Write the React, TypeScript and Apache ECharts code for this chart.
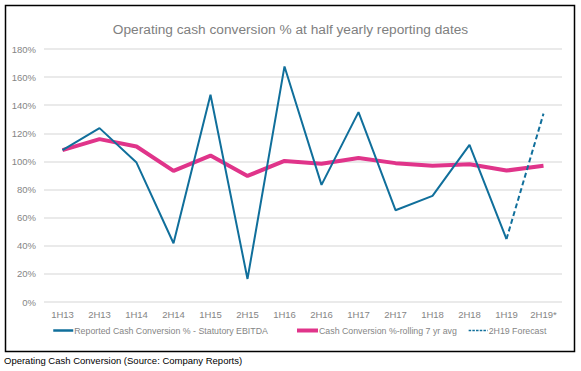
import React, { useEffect, useRef } from "react";
import * as echarts from "echarts";

const categories = ["1H13", "2H13", "1H14", "2H14", "1H15", "2H15", "1H16", "2H16", "1H17", "2H17", "1H18", "2H18", "1H19", "2H19*"];
const reported = [108, 123.7, 99.2, 41.8, 147.4, 16.4, 167.6, 83.3, 135.1, 65.3, 75.5, 111.8, 44.8, null];
const rolling = [108, 115.9, 110.6, 93.3, 104.2, 89.7, 100.4, 98.3, 102.5, 98.8, 96.9, 98, 93.5, 97];
const forecast = [null, null, null, null, null, null, null, null, null, null, null, null, 44.8, 134];
const yTicks = { min: 0, max: 180, interval: 20 };

const BLUE = "#106f9b";
const PINK = "#e0348a";
const GRAY = "#858585";
const FONT = "Liberation Sans, Arial, sans-serif";

export default function App() {
  const ref = useRef<HTMLDivElement>(null);
  useEffect(() => {
    const chart = echarts.init(ref.current!, null, { renderer: "svg" });
    const legendText = { color: GRAY, fontSize: 8.8, fontFamily: FONT, padding: [0, 0, 0, -4] };
    const hiddenSymbol = { color: "rgba(0,0,0,0)", borderWidth: 0, opacity: 0 };
    chart.setOption({
      animation: false,
      backgroundColor: "#ffffff",
      title: {
        text: "Operating cash conversion % at half yearly reporting dates",
        left: "center",
        top: 17,
        textStyle: { color: "#808080", fontSize: 13.7, fontWeight: "normal", fontFamily: FONT },
      },
      grid: { left: 44, right: 19, top: 49, bottom: 69 },
      xAxis: {
        type: "category",
        data: categories,
        boundaryGap: true,
        axisLine: { show: false },
        axisTick: { show: false },
        axisLabel: { color: GRAY, fontSize: 9.5, fontFamily: FONT, margin: 7 },
      },
      yAxis: {
        type: "value",
        min: yTicks.min,
        max: yTicks.max,
        interval: yTicks.interval,
        axisLine: { show: false },
        axisTick: { show: false },
        axisLabel: { color: GRAY, fontSize: 9.5, fontFamily: FONT, margin: 8, formatter: "{value}%" },
        splitLine: { lineStyle: { color: "#e3e3e3", width: 1.5 } },
      },
      legend: [
        {
          left: 47, top: 321, itemWidth: 20, itemHeight: 10,
          data: ["Reported Cash Conversion % - Statutory EBITDA"], textStyle: legendText,
          itemStyle: hiddenSymbol, lineStyle: { width: 2.5 },
        },
        {
          left: 290, top: 321, itemWidth: 21, itemHeight: 10,
          data: ["Cash Conversion %-rolling 7 yr avg"], textStyle: legendText,
          itemStyle: hiddenSymbol, lineStyle: { width: 4 },
        },
        {
          left: 463, top: 321, itemWidth: 19, itemHeight: 10,
          data: ["2H19 Forecast"], textStyle: legendText,
          itemStyle: hiddenSymbol, lineStyle: { width: 1.3, type: [2.5, 1.2] },
        },
      ],
      series: [
        {
          name: "Reported Cash Conversion % - Statutory EBITDA",
          type: "line",
          data: reported,
          symbol: "none",
          lineStyle: { color: BLUE, width: 2 },
          itemStyle: { color: BLUE },
          z: 3,
        },
        {
          name: "Cash Conversion %-rolling 7 yr avg",
          type: "line",
          data: rolling,
          symbol: "none",
          lineStyle: { color: PINK, width: 4 },
          itemStyle: { color: PINK },
          z: 2,
        },
        {
          name: "2H19 Forecast",
          type: "line",
          data: forecast,
          symbol: "none",
          lineStyle: { color: BLUE, width: 2, type: [5, 3] },
          itemStyle: { color: BLUE },
          z: 3,
        },
      ],
      graphic: [
        {
          type: "rect",
          shape: { x: 5.5, y: 5.5, width: 569, height: 346 },
          style: { fill: "none", stroke: "#000000", lineWidth: 1.5 },
          silent: true,
        },
        {
          type: "text",
          x: 4,
          y: 355,
          style: {
            text: "Operating Cash Conversion (Source: Company Reports)",
            fill: "#000000",
            fontSize: 9.5,
            fontFamily: FONT,
          },
        },
      ],
    });
    return () => chart.dispose();
  }, []);
  return (
    <div style={{ position: "absolute", left: 0, top: 0, width: 581, height: 371, background: "#fff" }}>
      <div ref={ref} style={{ width: 581, height: 371 }} />
    </div>
  );
}
